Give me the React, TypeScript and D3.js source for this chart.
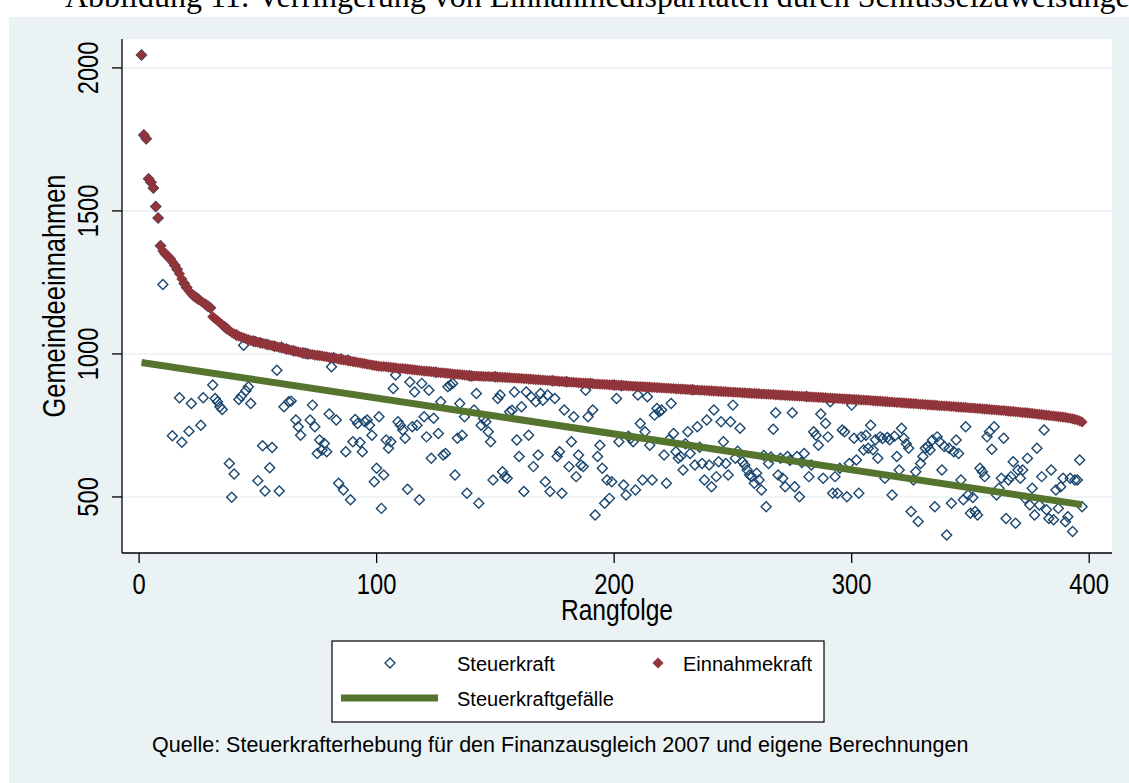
import * as d3 from "d3";
import React from "react";

// Rangfolge der Gemeinden nach Einnahmekraft (1 = höchste)
const einnahmekraft = [
  2045, 1765, 1752, 1612, 1600, 1580, 1515, 1475, 1378, 1360,
  1350, 1342, 1333, 1322, 1310, 1296, 1280, 1262, 1246, 1232,
  1220, 1210, 1203, 1197, 1191, 1185, 1179, 1173, 1167, 1161,
  1130, 1123, 1116, 1109, 1102, 1095, 1088, 1081, 1075, 1070,
  1066, 1062, 1059, 1056, 1053, 1050, 1047, 1045, 1043, 1041,
  1039, 1037, 1035, 1033, 1031, 1029, 1027, 1025, 1023, 1021,
  1019, 1017, 1015, 1013, 1011, 1009, 1007, 1005, 1003, 1002,
  1000, 999, 998, 996, 995, 994, 993, 991, 990, 988,
  987, 985, 984, 982, 981, 979, 978, 976, 975, 973,
  972, 970, 969, 967, 966, 964, 963, 961, 960, 958,
  957, 956, 956, 955, 954, 953, 952, 951, 950, 949,
  949, 948, 947, 946, 945, 944, 943, 942, 941, 940,
  940, 939, 938, 937, 936, 935, 934, 934, 933, 932,
  931, 930, 929, 929, 928, 927, 926, 925, 924, 923,
  923, 923, 922, 922, 921, 921, 921, 920, 920, 920,
  919, 919, 918, 918, 917, 917, 916, 916, 915, 915,
  914, 913, 913, 912, 912, 911, 910, 910, 909, 909,
  908, 907, 907, 906, 906, 905, 904, 904, 903, 903,
  902, 901, 901, 900, 899, 899, 898, 898, 897, 897,
  896, 895, 895, 894, 894, 893, 893, 892, 892, 891,
  891, 890, 890, 889, 889, 888, 888, 887, 887, 886,
  886, 885, 885, 884, 884, 883, 883, 882, 882, 881,
  881, 880, 880, 879, 879, 878, 878, 877, 877, 876,
  876, 875, 875, 874, 874, 873, 873, 872, 872, 871,
  871, 870, 870, 869, 869, 868, 868, 867, 867, 866,
  866, 865, 865, 864, 864, 863, 863, 862, 862, 861,
  861, 860, 860, 859, 859, 858, 858, 857, 857, 856,
  856, 855, 855, 854, 854, 853, 853, 852, 852, 851,
  851, 850, 850, 849, 849, 848, 848, 847, 847, 846,
  846, 845, 845, 844, 844, 843, 843, 842, 842, 841,
  841, 840, 840, 839, 839, 838, 838, 837, 836, 836,
  835, 835, 834, 833, 833, 832, 832, 831, 830, 830,
  829, 829, 828, 827, 827, 826, 826, 825, 824, 824,
  823, 822, 822, 821, 821, 820, 819, 819, 818, 818,
  817, 816, 816, 815, 814, 814, 813, 813, 812, 811,
  811, 810, 809, 809, 808, 807, 807, 806, 805, 805,
  804, 803, 802, 802, 801, 800, 799, 799, 798, 797,
  796, 795, 795, 794, 793, 792, 791, 790, 789, 788,
  787, 786, 785, 784, 783, 782, 781, 780, 779, 778,
  776, 775, 773, 771, 769, 766, 762,
];

const steuerkraft = [
  2045, 1765, 1752, 1612, 1600, 1580, 1515, 1475, 1378, 1243,
  1350, 1342, 1333, 714, 1310, 1296, 847, 691, 1246, 1232,
  730, 827, 1203, 1197, 1191, 751, 847, 1173, 1167, 1161,
  891, 844, 833, 815, 806, 1095, 1088, 617, 499, 580,
  1066, 841, 852, 1030, 871, 885, 827, 1045, 1043, 557,
  1039, 679, 521, 1033, 602, 673, 1027, 943, 521, 1023,
  815, 1017, 833, 835, 1011, 769, 745, 716, 1003, 1002,
  1000, 769, 821, 745, 652, 699, 664, 687, 658, 790,
  955, 987, 769, 548, 982, 524, 658, 978, 490, 693,
  771, 757, 690, 658, 763, 769, 751, 716, 553, 600,
  780, 460, 577, 699, 670, 693, 879, 926, 763, 751,
  734, 705, 527, 902, 745, 867, 751, 490, 897, 780,
  710, 873, 635, 775, 936, 722, 833, 647, 652, 885,
  891, 897, 577, 705, 827, 716, 780, 513, 924, 923,
  804, 862, 478, 751, 774, 763, 728, 693, 559, 920,
  844, 856, 588, 571, 565, 798, 803, 867, 699, 641,
  815, 519, 867, 716, 850, 606, 833, 647, 862, 838,
  553, 856, 519, 906, 844, 641, 658, 513, 804, 903,
  606, 693, 780, 571, 647, 612, 606, 873, 780, 897,
  804, 437, 641, 681, 600, 478, 559, 495, 553, 891,
  844, 693, 889, 542, 507, 712, 705, 693, 524, 856,
  757, 559, 728, 850, 681, 559, 786, 809, 798, 804,
  647, 548, 700, 827, 722, 658, 635, 641, 594, 686,
  728, 652, 875, 612, 745, 674, 617, 559, 769, 612,
  536, 804, 571, 623, 763, 693, 617, 577, 763, 821,
  635, 660, 740, 623, 612, 594, 577, 571, 548, 583,
  559, 524, 645, 466, 617, 640, 737, 794, 577, 635,
  565, 536, 641, 628, 794, 536, 641, 501, 620, 652,
  851, 571, 612, 728, 716, 681, 790, 565, 757, 710,
  833, 513, 571, 513, 600, 734, 728, 501, 617, 821,
  705, 629, 513, 710, 664, 716, 670, 751, 665, 700,
  635, 710, 704, 565, 708, 700, 507, 712, 641, 594,
  740, 705, 686, 670, 449, 559, 588, 414, 617, 641,
  670, 676, 664, 699, 466, 710, 693, 594, 676, 367,
  670, 478, 658, 699, 652, 559, 490, 745, 507, 443,
  498, 449, 437, 600, 588, 571, 710, 728, 667, 745,
  507, 530, 565, 705, 425, 559, 571, 623, 408, 594,
  565, 594, 495, 635, 472, 530, 437, 670, 472, 571,
  734, 455, 425, 594, 420, 524, 460, 536, 565, 413,
  431, 565, 379, 559, 559, 629, 466,
];

// Steuerkraftgefälle (Endpunkte der Geraden)
const gefaelleRang = [1, 397];
const gefaelleWert = [970, 473];

const xTicks = [0, 100, 200, 300, 400];
const yTicks = [500, 1000, 1500, 2000];

const W = 1129;
const H = 783;
const plot = { left: 122, right: 1112, top: 39, bottom: 553 };

const BG = "#EAF2F3";
const NAVY = "#1A476F";
const RED = "#90353B";
const GREEN = "#55752F";
const FONT = "'Liberation Sans', Arial, Helvetica, sans-serif";

// Stata renders this chart with a narrow Arial look
function NText({ x, y, size, rotate = 0, anchor = "middle", sx = 0.82, children }) {
  return (
    <g transform={`translate(${x},${y}) rotate(${rotate}) scale(${sx},1)`}>
      <text fontFamily={FONT} fontSize={size} textAnchor={anchor} fill="#000">
        {children}
      </text>
    </g>
  );
}

export default function App() {
  const x = d3.scaleLinear().domain([-7.2, 409.6]).range([plot.left, plot.right]);
  const y = d3.scaleLinear().domain([304, 2101]).range([plot.bottom, plot.top]);

  const ranks = d3.range(1, steuerkraft.length + 1);
  const hollow = d3.symbol().type(d3.symbolSquare).size(50)();
  const filled = d3.symbol().type(d3.symbolSquare).size(62)();

  const line = d3
    .line()
    .x((d) => x(d[0]))
    .y((d) => y(d[1]));
  const gefaelle = line(gefaelleRang.map((r, i) => [r, gefaelleWert[i]]));

  return (
    <div style={{ position: "absolute", left: 0, top: 0 }}>
      <svg width={W} height={H} style={{ display: "block", background: "#fff" }}>
        <text
          x={65}
          y={7}
          fontFamily="'Liberation Serif', 'Times New Roman', serif"
          fontSize={32}
          fill="#000"
        >
          Abbildung 11: Verringerung von Einnahmedisparitäten durch Schlüsselzuweisungen
        </text>
        <rect x={9} y={17} width={W - 9} height={H - 17} fill={BG} />
        <rect
          x={plot.left}
          y={plot.top}
          width={plot.right - plot.left}
          height={plot.bottom - plot.top}
          fill="#fff"
        />

        {/* grid */}
        {yTicks.map((t) => (
          <line
            key={"g" + t}
            x1={plot.left}
            x2={plot.right}
            y1={y(t)}
            y2={y(t)}
            stroke={BG}
            strokeWidth={1.5}
          />
        ))}

        {/* Steuerkraft */}
        <g>
          {steuerkraft.map((v, i) => (
            <path
              key={"s" + i}
              d={hollow}
              transform={`translate(${x(ranks[i])},${y(v)}) rotate(45)`}
              fill="none"
              stroke={NAVY}
              strokeWidth={1.4}
            />
          ))}
        </g>

        {/* Einnahmekraft */}
        <g>
          {einnahmekraft.map((v, i) => (
            <path
              key={"e" + i}
              d={filled}
              transform={`translate(${x(ranks[i])},${y(v)}) rotate(45)`}
              fill={RED}
            />
          ))}
        </g>

        {/* Steuerkraftgefälle */}
        <path d={gefaelle} fill="none" stroke={GREEN} strokeWidth={7} />

        {/* axes */}
        <line x1={plot.left} x2={plot.left} y1={plot.top} y2={plot.bottom} stroke="#000" strokeWidth={1.3} />
        <line x1={plot.left} x2={plot.right} y1={plot.bottom} y2={plot.bottom} stroke="#000" strokeWidth={1.3} />
        {yTicks.map((t) => (
          <g key={"y" + t}>
            <line x1={plot.left - 10} x2={plot.left} y1={y(t)} y2={y(t)} stroke="#000" strokeWidth={1.3} />
            <NText x={98} y={y(t)} size={29} rotate={-90}>
              {t}
            </NText>
          </g>
        ))}
        {xTicks.map((t) => (
          <g key={"x" + t}>
            <line x1={x(t)} x2={x(t)} y1={plot.bottom} y2={plot.bottom + 10} stroke="#000" strokeWidth={1.3} />
            <NText x={x(t)} y={594} size={29}>
              {t}
            </NText>
          </g>
        ))}
        <NText x={(plot.left + plot.right) / 2} y={620} size={30}>
          Rangfolge
        </NText>
        <NText x={65} y={(plot.top + plot.bottom) / 2} size={31} rotate={-90}>
          Gemeindeeinnahmen
        </NText>

        {/* legend */}
        <rect x={332} y={641} width={492} height={81} fill="#fff" stroke="#000" strokeWidth={1.2} />
        <path d={hollow} transform="translate(390,663) rotate(45)" fill="none" stroke={NAVY} strokeWidth={1.4} />
        <NText x={457} y={671} size={20} anchor="start" sx={1}>
          Steuerkraft
        </NText>
        <path d={filled} transform="translate(658,663) rotate(45)" fill={RED} />
        <NText x={683} y={671} size={20} anchor="start" sx={1}>
          Einnahmekraft
        </NText>
        <line x1={341} x2={438} y1={698} y2={698} stroke={GREEN} strokeWidth={7} />
        <NText x={457} y={706} size={20} anchor="start" sx={1}>
          Steuerkraftgefälle
        </NText>

        <NText x={152} y={752} size={21.5} anchor="start" sx={1}>
          Quelle: Steuerkrafterhebung für den Finanzausgleich 2007 und eigene Berechnungen
        </NText>
      </svg>
    </div>
  );
}
